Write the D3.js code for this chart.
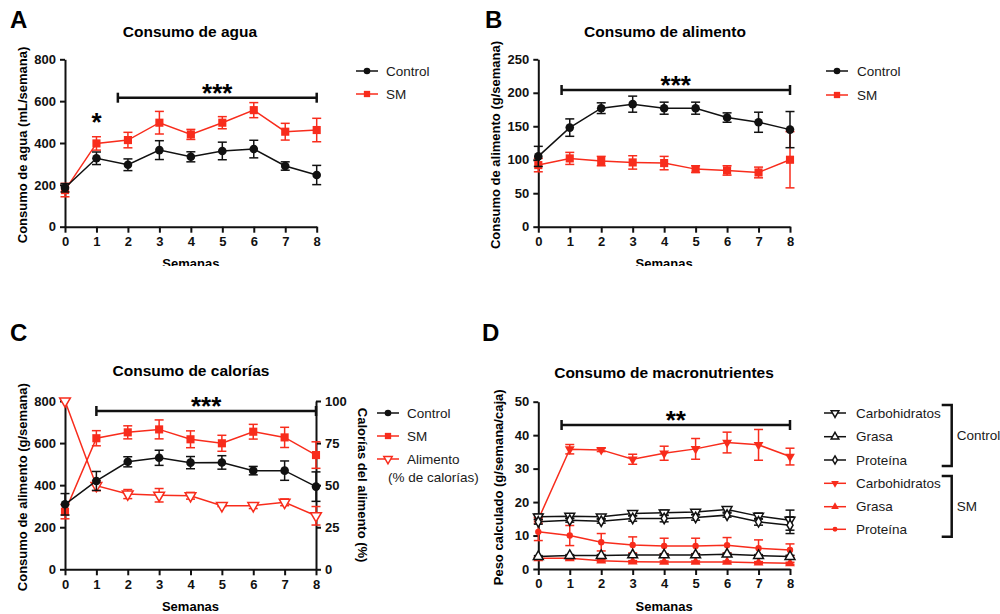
<!DOCTYPE html>
<html>
<head>
<meta charset="utf-8">
<script src="https://cdn.jsdelivr.net/npm/d3@7"></script>
<style>
  body { margin: 0; background: #fff; }
  text { font-family: "Liberation Sans", Arial, sans-serif; }
</style>
</head>
<body>
<div id="chart"></div>
<script>
const weeks = [0, 1, 2, 3, 4, 5, 6, 7, 8];

// A - consumo de agua (mL/semana)
const aguaControl = [186, 327, 296, 366, 334, 362, 371, 290, 247];
const aguaControlErr = [20, 30, 28, 45, 24, 42, 42, 20, 46];
const aguaSM = [175, 398, 414, 497, 441, 497, 557, 454, 462];
const aguaSMErr = [32, 32, 37, 54, 24, 29, 36, 40, 56];

// B - consumo de alimento (g/semana)
const alimControl = [105, 148, 177, 183, 177, 177, 163, 156, 145];
const alimControlErr = [15, 13, 8, 12, 9, 9, 7, 15, 27];
const alimSM = [92, 102, 98, 96, 95, 86, 84, 81, 100];
const alimSMErr = [10, 9, 7, 10, 10, 5, 7, 8, 42];

// C - consumo de calorias
const calControl = [309, 420, 511, 530, 507, 508, 469, 469, 393];
const calControlErr = [51, 45, 24, 36, 29, 32, 20, 46, 70];
const calSM = [274, 623, 651, 665, 618, 599, 654, 627, 543];
const calSMErr = [34, 36, 31, 45, 40, 38, 35, 48, 63];
const calAlimPct = [100, 49.7, 44.7, 44, 43.7, 37.8, 37.8, 39.8, 31.8];
const calAlimPctErr = [0, 3, 2.7, 4, 2, 0.5, 1.7, 2, 5.5];

// D - macronutrientes (g/semana/caja)
const macroControlCarb = [15.6, 15.8, 15.6, 16.6, 16.8, 17.0, 17.8, 15.8, 14.6];
const macroControlCarbErr = [0.8, 0.7, 0.6, 0.7, 0.8, 0.7, 0.8, 0.9, 3.0];
const macroControlGrasa = [3.7, 4.0, 4.0, 4.2, 4.2, 4.2, 4.4, 4.0, 3.7];
const macroControlGrasaErr = [0.3, 0.3, 0.3, 0.3, 0.3, 0.3, 0.3, 0.3, 0.4];
const macroControlProt = [14.1, 14.6, 14.3, 15.1, 15.1, 15.4, 16.1, 14.1, 13.1];
const macroControlProtErr = [0.7, 0.6, 0.6, 0.8, 1.0, 0.8, 0.6, 1.0, 2.5];
const macroSMCarb = [14.8, 35.8, 35.6, 32.8, 34.6, 35.9, 37.8, 37.1, 33.6];
const macroSMCarbErr = [0.5, 1.4, 0.5, 1.5, 2.1, 3.1, 3.1, 4.6, 2.5];
const macroSMGrasa = [3.2, 3.2, 2.5, 2.2, 2.1, 2.1, 2.1, 1.9, 1.7];
const macroSMGrasaErr = [0.4, 0.4, 0.3, 0.3, 0.3, 0.3, 0.3, 0.3, 0.3];
const macroSMProt = [11.1, 10.0, 8.0, 7.2, 6.9, 6.9, 7.1, 6.2, 5.7];
const macroSMProtErr = [2.6, 3.0, 2.6, 2.4, 2.3, 2.3, 2.3, 2.5, 1.8];

const RED = '#f82c1c';
const BLACK = '#111';

const svg = d3.select('#chart').append('svg')
    .attr('width', 1000)
    .attr('height', 614);

svg.append('defs').append('clipPath').attr('id', 'topclip')
    .append('rect').attr('x', 0).attr('y', 0).attr('width', 1000).attr('height', 266);

const symbols = {
    circle: d3.symbolCircle,
    square: d3.symbolSquare,
    triangle: d3.symbolTriangle,
    diamond: d3.symbolDiamond,
};

const styleAxis = (ax) => {
    ax.select('.domain').attr('stroke', BLACK).attr('stroke-width', 2);
    ax.selectAll('.tick line').attr('stroke', BLACK).attr('stroke-width', 2);
    ax.selectAll('.tick text')
        .attr('fill', BLACK)
        .style('font-size', '13px')
        .style('font-weight', 'bold');
};

const marker = (sel, s, scale = 1) => {
    sel.attr('d', d3.symbol(symbols[s.sym], s.size * scale))
        .attr('fill', s.open ? '#fff' : s.color)
        .attr('stroke', s.color)
        .attr('stroke-width', s.open ? 1.5 : 0);
};

const drawSeries = (g, x, y, s) => {
    const pts = weeks.map((w, i) => ({ w: w, v: s.vals[i], e: s.err ? s.err[i] : 0 }));

    g.append('path')
        .datum(pts)
        .attr('fill', 'none')
        .attr('stroke', s.color)
        .attr('stroke-width', 1.5)
        .attr('d', d3.line().x((d) => x(d.w)).y((d) => y(d.v)));

    const eb = g.append('g').attr('stroke', s.color).attr('stroke-width', 1.5);
    pts.filter((d) => d.e > 0).forEach((d) => {
        const cx = x(d.w);
        eb.append('line').attr('x1', cx).attr('x2', cx).attr('y1', y(d.v - d.e)).attr('y2', y(d.v + d.e));
        [d.v - d.e, d.v + d.e].forEach((v) => {
            eb.append('line').attr('x1', cx - 4.5).attr('x2', cx + 4.5).attr('y1', y(v)).attr('y2', y(v));
        });
    });

    g.append('g')
        .selectAll('path')
        .data(pts)
        .join('path')
        .attr('transform', (d) => `translate(${x(d.w)},${y(d.v)}) rotate(${s.rot || 0})`)
        .call(marker, s);
};

const drawLegend = (g, items, mx, tx) => {
    items.forEach((it) => {
        g.append('line')
            .attr('x1', mx - 11).attr('x2', mx + 11)
            .attr('y1', it.y).attr('y2', it.y)
            .attr('stroke', it.s.color).attr('stroke-width', 1.5);
        g.append('path')
            .attr('transform', `translate(${mx},${it.y}) rotate(${it.s.rot || 0})`)
            .call(marker, it.s, 0.6);
        it.label.forEach((t, j) => {
            g.append('text')
                .attr('x', j == 0 ? tx : tx - 19)
                .attr('y', it.y + j * 18)
                .attr('dy', '0.35em')
                .style('font-size', '13.5px')
                .attr('fill', '#1a1a1a')
                .text(t);
        });
    });
};

const panel = (cfg) => {
    const g = svg.append('g');

    const x = d3.scaleLinear().domain([0, 8]).range([cfg.x0, cfg.x1]);
    const y = d3.scaleLinear().domain([0, cfg.yMax]).range([cfg.yBot, cfg.yTop]);

    // panel letter and title
    g.append('text').attr('x', cfg.letter[1]).attr('y', cfg.letter[2])
        .style('font-size', '24px').style('font-weight', 'bold').text(cfg.letter[0]);
    g.append('text').attr('x', cfg.titleX).attr('y', cfg.titleY)
        .attr('text-anchor', 'middle')
        .style('font-size', '15.5px').style('font-weight', 'bold').text(cfg.title);

    // axes
    const ya = g.append('g')
        .attr('transform', `translate(${cfg.x0},0)`)
        .call(d3.axisLeft(y).tickValues(cfg.yTicks).tickSize(5).tickSizeOuter(0).tickPadding(4));
    styleAxis(ya);

    const xa = g.append('g')
        .attr('transform', `translate(0,${cfg.yBot})`)
        .call(d3.axisBottom(x).tickValues(weeks).tickSize(6).tickSizeOuter(0).tickPadding(4));
    styleAxis(xa);

    g.append('text')
        .attr('transform', `translate(${cfg.yLabelX},${(cfg.yTop + cfg.yBot) / 2 + 2}) rotate(-90)`)
        .attr('text-anchor', 'middle')
        .attr('dy', '0.35em')
        .style('font-size', '13px').style('font-weight', 'bold')
        .text(cfg.yLabel);

    const xl = g.append('text')
        .attr('x', (cfg.x0 + cfg.x1) / 2)
        .attr('y', cfg.xLabelY)
        .attr('text-anchor', 'middle')
        .style('font-size', '13px').style('font-weight', 'bold')
        .text('Semanas');
    if (cfg.clip) xl.attr('clip-path', 'url(#topclip)');

    let y2 = null;
    if (cfg.y2) {
        y2 = d3.scaleLinear().domain([0, cfg.y2.max]).range([cfg.yBot, cfg.yTop]);
        const ra = g.append('g')
            .attr('transform', `translate(${cfg.x1},0)`)
            .call(d3.axisRight(y2).tickValues(cfg.y2.ticks).tickSize(5).tickSizeOuter(0).tickPadding(4));
        styleAxis(ra);
        g.append('text')
            .attr('transform', `translate(${cfg.y2.labelX},${(cfg.yTop + cfg.yBot) / 2}) rotate(90)`)
            .attr('text-anchor', 'middle')
            .attr('dy', '0.35em')
            .style('font-size', '13px').style('font-weight', 'bold')
            .text(cfg.y2.label);
    }

    // significance bar
    const sg = g.append('g').attr('stroke', BLACK).attr('stroke-width', 2.5);
    const [sa, sb] = cfg.sig.range;
    sg.append('line').attr('x1', x(sa)).attr('x2', x(sb)).attr('y1', cfg.sig.y).attr('y2', cfg.sig.y);
    [sa, sb].forEach((w) => {
        sg.append('line').attr('x1', x(w)).attr('x2', x(w)).attr('y1', cfg.sig.y - 5).attr('y2', cfg.sig.y + 5);
    });
    g.append('text')
        .attr('x', (x(sa) + x(sb)) / 2)
        .attr('y', cfg.sig.y + cfg.sig.dy)
        .attr('text-anchor', 'middle')
        .style('font-size', '26px').style('font-weight', 'bold')
        .text(cfg.sig.text);
    (cfg.extraStars || []).forEach((st) => {
        g.append('text').attr('x', x(st.w)).attr('y', y(st.v))
            .attr('text-anchor', 'middle')
            .style('font-size', '26px').style('font-weight', 'bold')
            .text(st.text);
    });

    cfg.series.forEach((s) => drawSeries(g, x, s.right ? y2 : y, s));

    drawLegend(g, cfg.legend.items, cfg.legend.mx, cfg.legend.tx);
    return g;
};

const sControl = { color: BLACK, sym: 'circle', size: 58 };
const sSM = { color: RED, sym: 'square', size: 66 };

// A
panel({
    letter: ['A', 10, 28],
    title: 'Consumo de agua', titleX: 190, titleY: 37,
    x0: 65, x1: 316.7, yTop: 59.3, yBot: 226.7,
    yMax: 800, yTicks: [0, 200, 400, 600, 800],
    yLabel: 'Consumo de agua (mL/semana)', yLabelX: 22,
    xLabelY: 268, clip: true,
    sig: { range: [1.68, 8], y: 97.7, dy: 4, text: '***' },
    extraStars: [{ w: 1, v: 455, text: '*' }],
    series: [
        { ...sSM, vals: aguaSM, err: aguaSMErr },
        { ...sControl, vals: aguaControl, err: aguaControlErr },
    ],
    legend: {
        mx: 367, tx: 386,
        items: [
            { y: 71, s: sControl, label: ['Control'] },
            { y: 94, s: sSM, label: ['SM'] },
        ],
    },
});

// B
panel({
    letter: ['B', 485, 28],
    title: 'Consumo de alimento', titleX: 665, titleY: 37,
    x0: 538.3, x1: 790, yTop: 59.3, yBot: 226.7,
    yMax: 250, yTicks: [0, 50, 100, 150, 200, 250],
    yLabel: 'Consumo de alimento (g/semana)', yLabelX: 495,
    xLabelY: 268, clip: true,
    sig: { range: [0.74, 8], y: 90, dy: 4, text: '***' },
    series: [
        { ...sSM, vals: alimSM, err: alimSMErr },
        { ...sControl, vals: alimControl, err: alimControlErr },
    ],
    legend: {
        mx: 837, tx: 857,
        items: [
            { y: 71, s: sControl, label: ['Control'] },
            { y: 95, s: sSM, label: ['SM'] },
        ],
    },
});

// C
const sAlim = { color: RED, sym: 'triangle', size: 50, rot: 180, open: true };
panel({
    letter: ['C', 10, 341],
    title: 'Consumo de calorías', titleX: 191, titleY: 376,
    x0: 65, x1: 316, yTop: 401, yBot: 569.3,
    yMax: 800, yTicks: [0, 200, 400, 600, 800],
    yLabel: 'Consumo de alimento (g/semana)', yLabelX: 22,
    xLabelY: 611,
    y2: { max: 100, ticks: [0, 25, 50, 75, 100], label: 'Calorías del alimento (%)', labelX: 363 },
    sig: { range: [1, 8], y: 411, dy: 4, text: '***' },
    series: [
        { ...sAlim, vals: calAlimPct, err: calAlimPctErr, right: true },
        { ...sSM, vals: calSM, err: calSMErr },
        { ...sControl, vals: calControl, err: calControlErr },
    ],
    legend: {
        mx: 388, tx: 407,
        items: [
            { y: 413, s: sControl, label: ['Control'] },
            { y: 436, s: sSM, label: ['SM'] },
            { y: 459, s: sAlim, label: ['Alimento', '(% de calorías)'] },
        ],
    },
});

// D
const dCCarb = { color: BLACK, sym: 'triangle', size: 42, rot: 180, open: true };
const dCGrasa = { color: BLACK, sym: 'triangle', size: 42, open: true };
const dCProt = { color: BLACK, sym: 'diamond', size: 32, open: true };
const dSCarb = { color: RED, sym: 'triangle', size: 42, rot: 180 };
const dSGrasa = { color: RED, sym: 'triangle', size: 42 };
const dSProt = { color: RED, sym: 'circle', size: 32 };
const gD = panel({
    letter: ['D', 482, 341],
    title: 'Consumo de macronutrientes', titleX: 664, titleY: 378,
    x0: 538.3, x1: 790, yTop: 401.7, yBot: 569,
    yMax: 50, yTicks: [0, 10, 20, 30, 40, 50],
    yLabel: 'Peso calculado (g/semana/caja)', yLabelX: 498,
    xLabelY: 611,
    sig: { range: [0.74, 8], y: 425, dy: 4, text: '**' },
    series: [
        { ...dSCarb, vals: macroSMCarb, err: macroSMCarbErr },
        { ...dSProt, vals: macroSMProt, err: macroSMProtErr },
        { ...dSGrasa, vals: macroSMGrasa, err: macroSMGrasaErr },
        { ...dCCarb, vals: macroControlCarb, err: macroControlCarbErr },
        { ...dCProt, vals: macroControlProt, err: macroControlProtErr },
        { ...dCGrasa, vals: macroControlGrasa, err: macroControlGrasaErr },
    ],
    legend: {
        mx: 835, tx: 856,
        items: [
            { y: 413, s: dCCarb, label: ['Carbohidratos'] },
            { y: 436.7, s: dCGrasa, label: ['Grasa'] },
            { y: 460, s: dCProt, label: ['Proteína'] },
            { y: 483.3, s: dSCarb, label: ['Carbohidratos'] },
            { y: 506.7, s: dSGrasa, label: ['Grasa'] },
            { y: 529.3, s: dSProt, label: ['Proteína'] },
        ],
    },
});

// group brackets in legend D
const brackets = [
    { y0: 405, y1: 466, label: 'Control' },
    { y0: 476, y1: 536.7, label: 'SM' },
];
brackets.forEach((b) => {
    gD.append('path')
        .attr('d', `M941.7,${b.y0}H951.7V${b.y1}H941.7`)
        .attr('fill', 'none')
        .attr('stroke', BLACK)
        .attr('stroke-width', 2.5);
    gD.append('text')
        .attr('x', 956.7)
        .attr('y', (b.y0 + b.y1) / 2)
        .attr('dy', '0.35em')
        .style('font-size', '13.5px')
        .attr('fill', '#1a1a1a')
        .text(b.label);
});
</script>
</body>
</html>
